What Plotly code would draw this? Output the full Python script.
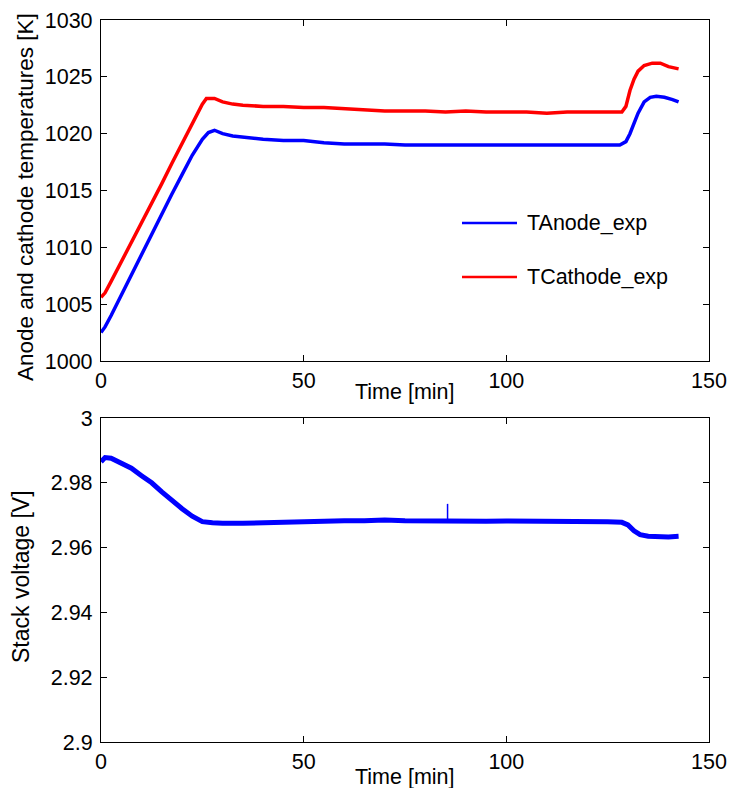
import plotly.graph_objects as go

# Electrode temperatures during the heating test
t_anode = [0, 1, 2.5, 5, 7.5, 10, 12.5, 15, 17.5, 20, 22.5, 25, 26.5, 28, 30, 32.5, 35,
           40, 45, 50, 55, 60, 65, 70, 75, 80, 85, 90, 95, 100, 105, 110, 115, 120,
           125, 128, 129.5, 130.5, 131.5, 132.5, 134, 135.5, 137, 139, 141, 142.5]
T_anode = [1002.5, 1003.0, 1004.0, 1005.8, 1007.6, 1009.4, 1011.1, 1012.9, 1014.7,
           1016.4, 1018.1, 1019.5, 1020.1, 1020.3, 1020.0, 1019.8, 1019.7,
           1019.5, 1019.4, 1019.4, 1019.2, 1019.1, 1019.1, 1019.1, 1019.0, 1019.0,
           1019.0, 1019.0, 1019.0, 1019.0, 1019.0, 1018.95, 1019.0, 1019.0,
           1019.0, 1019.0, 1019.3, 1020.0, 1020.9, 1021.8, 1022.8, 1023.2, 1023.3,
           1023.2, 1023.0, 1022.8]

t_cathode = [0, 1, 2.5, 5, 7.5, 10, 12.5, 15, 17.5, 20, 22.5, 25, 26, 28, 30, 32.5, 35,
             40, 45, 50, 55, 60, 65, 70, 75, 80, 85, 90, 95, 100, 105, 110, 115, 120,
             125, 128.5, 129.5, 130.5, 131.5, 132.5, 134, 136, 138, 140, 142.5]
T_cathode = [1005.6, 1006.0, 1007.0, 1008.7, 1010.4, 1012.1, 1013.9, 1015.6, 1017.4,
             1019.1, 1020.9, 1022.6, 1023.1, 1023.1, 1022.8, 1022.6, 1022.5,
             1022.4, 1022.4, 1022.3, 1022.3, 1022.2, 1022.1, 1022.0, 1022.0, 1022.0,
             1021.9, 1022.0, 1021.9, 1021.9, 1021.9, 1021.8, 1021.9, 1021.9,
             1021.9, 1021.9, 1022.4, 1023.8, 1024.8, 1025.5, 1026.0, 1026.2, 1026.2,
             1025.9, 1025.7]

# Stack voltage over the same run
t_volt = [0, 1, 2.5, 5, 7.5, 10, 12.5, 15, 17.5, 20, 22.5, 25, 27.5, 30, 35, 40, 45,
          50, 55, 60, 65, 70, 75, 80, 85, 90, 95, 100, 105, 110,
          115, 120, 125, 128.5, 130, 131.5, 133, 135, 137.5, 140, 142.5]
V_stack = [2.9865, 2.9878, 2.9876, 2.9862, 2.9845, 2.9822, 2.9800, 2.9772, 2.9745,
           2.9720, 2.9697, 2.9680, 2.9677, 2.9675, 2.9675, 2.9677, 2.9680,
           2.9681, 2.9682, 2.9683, 2.9683, 2.9685, 2.9683, 2.9682, 2.9681,
           2.9680, 2.9681, 2.9682, 2.9682, 2.9683,
           2.9682, 2.9680, 2.9680, 2.9678, 2.9670, 2.9652, 2.9640, 2.9635, 2.9633,
           2.9633, 2.9635]
# single-sample voltage spike near t = 85.5 min
t_spike = [85.5, 85.5]
V_spike = [2.9681, 2.9735]

x_ticks = [0, 50, 100, 150]
temp_ticks = [1000, 1005, 1010, 1015, 1020, 1025, 1030]
volt_ticks = [2.9, 2.92, 2.94, 2.96, 2.98, 3.0]
volt_tick_text = ["2.9", "2.92", "2.94", "2.96", "2.98", "3"]

FONT = "Liberation Sans, Arial, Helvetica, sans-serif"
W, H = 730, 788
BLUE, RED = "#0000ff", "#ff0000"

fig = go.Figure()
fig.add_trace(go.Scatter(x=t_anode, y=T_anode, mode="lines", name="TAnode_exp",
                         line=dict(color=BLUE, width=3.5), showlegend=False,
                         xaxis="x", yaxis="y"))
fig.add_trace(go.Scatter(x=t_cathode, y=T_cathode, mode="lines", name="TCathode_exp",
                         line=dict(color=RED, width=3.5), showlegend=False,
                         xaxis="x", yaxis="y"))
fig.add_trace(go.Scatter(x=t_volt, y=V_stack, mode="lines", name="Vstack",
                         line=dict(color=BLUE, width=5), showlegend=False,
                         xaxis="x2", yaxis="y2"))
fig.add_trace(go.Scatter(x=t_spike, y=V_spike, mode="lines", name="Vstack spike",
                         line=dict(color=BLUE, width=1.5), showlegend=False,
                         xaxis="x2", yaxis="y2"))

TICK_SIZE = 21.5
axis_common = dict(showline=True, linecolor="black", linewidth=1.2, mirror="ticks",
                   ticks="inside", ticklen=6, tickcolor="black", tickwidth=1,
                   showgrid=False, zeroline=False,
                   tickfont=dict(family=FONT, size=TICK_SIZE, color="black"))

xdom = [101 / W, 709 / W]
top_dom = [(H - 361) / H, (H - 20) / H]
bot_dom = [(H - 742) / H, (H - 418) / H]

fig.update_layout(
    width=W, height=H,
    margin=dict(l=0, r=0, t=0, b=0, autoexpand=False),
    paper_bgcolor="white", plot_bgcolor="white",
    font=dict(family=FONT, size=TICK_SIZE, color="black"),
    xaxis=dict(domain=xdom, range=[0, 150], tickvals=x_ticks, anchor="y",
               **axis_common),
    yaxis=dict(domain=top_dom, range=[1000, 1030], tickvals=temp_ticks, anchor="x",
               ticklabelstandoff=3, **axis_common),
    xaxis2=dict(domain=xdom, range=[0, 150], tickvals=x_ticks, anchor="y2",
                **axis_common),
    yaxis2=dict(domain=bot_dom, range=[2.9, 3.0], tickvals=volt_ticks,
                ticktext=volt_tick_text, anchor="x2", ticklabelstandoff=3,
                **axis_common),
    showlegend=False,
)

# Legend drawn as line samples plus labels inside the temperature panel
legend_items = [("TAnode_exp", BLUE, 223), ("TCathode_exp", RED, 277)]
for label, color, ypix in legend_items:
    yp = (H - ypix) / H
    fig.add_shape(type="line", xref="paper", yref="paper",
                  x0=462 / W, x1=517 / W, y0=yp, y1=yp,
                  line=dict(color=color, width=2.5))
    fig.add_annotation(xref="paper", yref="paper", x=525 / W, y=yp, text=label,
                       showarrow=False, xanchor="left", yanchor="middle",
                       font=dict(family=FONT, size=TICK_SIZE, color="black"))

titles = [
    dict(text="Time [min]", x=405 / W, y=(H - 392) / H, textangle=0, size=TICK_SIZE),
    dict(text="Time [min]", x=405 / W, y=(H - 777) / H, textangle=0, size=TICK_SIZE),
    dict(text="Anode and cathode temperatures [K]", x=25 / W, y=(H - 197) / H,
         textangle=-90, size=22.5),
    dict(text="Stack voltage [V]", x=21 / W, y=(H - 577) / H, textangle=-90, size=23),
]
for a in titles:
    size = a.pop("size")
    fig.add_annotation(xref="paper", yref="paper", showarrow=False,
                       xanchor="center", yanchor="middle",
                       font=dict(family=FONT, size=size, color="black"), **a)

fig.write_html("out.html")
